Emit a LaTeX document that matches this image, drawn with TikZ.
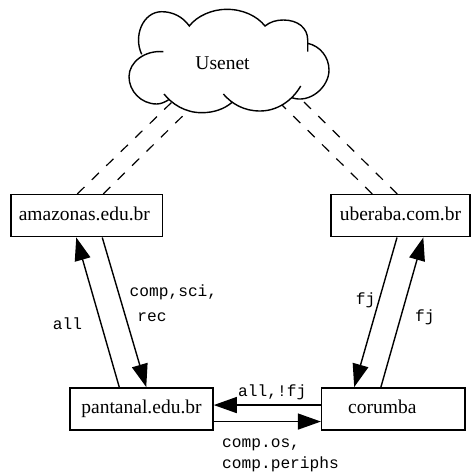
\documentclass[tikz,border=0pt]{standalone}
\usepackage{fontspec}
\setmainfont{Liberation Serif}
\setmonofont{Liberation Mono}
\usetikzlibrary{arrows.meta}
\tikzset{>={Triangle[length=23pt,width=16pt]}}
\tikzset{sitebox/.style={draw,line width=1.5pt,inner sep=0pt,minimum height=42pt,text height=13pt,text depth=3pt,font=\fontsize{19.5}{22}\selectfont}}
\tikzset{feed/.style={->,line width=1.4pt}}
\tikzset{peering/.style={line width=1.2pt,dash pattern=on 10pt off 10.2pt}}
\tikzset{newsgroup/.style={inner sep=0pt,anchor=base,font=\fontsize{16.2}{18}\ttfamily}}

% lobes of the cloud, #1 joins them
\newcommand{\cloudoutline}[1]{
    (141.7,417.7) .. controls (133,436) and (143,460.3) .. (161.7,460.3)
    .. controls (173,460.3) and (183,455) .. (189.3,446)
    .. controls (197,456) and (212,462.7) .. (226.7,462.7)
    .. controls (243,462.7) and (257,456) .. (265,446)
    .. controls (270,450) and (276,452) .. (283.3,452)
    .. controls (298,452) and (307.7,444) .. (307.7,432) -- (307.7,420.3) #1
    (307.7,428.7) .. controls (320,426) and (329,415) .. (329,402)
    .. controls (329,385) and (310,368) .. (291.7,374.3) #1
    (300.7,386) .. controls (292,371) and (277,361) .. (260,361)
    .. controls (244,361) and (232,368) .. (223.3,378) #1
    (231.7,369.3) .. controls (224,363) and (214,359.3) .. (201.7,359.3)
    .. controls (185,359.3) and (172,368) .. (164,378) #1
    (168.3,372) .. controls (165,370) and (161,368) .. (156.7,368)
    .. controls (141,368) and (129,381) .. (129,395.3)
    .. controls (129,410) and (145,422) .. (163.3,420.3)
}

\begin{document}
\begin{tikzpicture}[x=1pt,y=1pt]
    \useasboundingbox (0,0) rectangle (473,472);

    \node[sitebox,minimum width=151.7pt] (amazonas) at (86.85,256.3) {\kern-5pt amazonas.edu.br};
    \node[sitebox,minimum width=139.3pt] (uberaba) at (400.4,256.3) {uberaba.com.br};
    \node[sitebox,minimum width=143pt] (pantanal) at (141.5,63.15) {pantanal.edu.br};
    \node[sitebox,minimum width=143.3pt] (corumba) at (393.3,63.15) {\kern-22pt corumba};

    % ends of the dashed lines, hidden behind the cloud
    \coordinate (cloudA) at (172,370);
    \coordinate (cloudB) at (200,373);
    \coordinate (cloudC) at (281,368);
    \coordinate (cloudD) at (304,370);

    \draw[peering] ([xshift=67pt]amazonas.north west) -- (cloudA);
    \draw[peering] ([xshift=93pt]amazonas.north west) -- (cloudB);
    \draw[peering] ([xshift=42.3pt]uberaba.north west) -- (cloudC);
    \draw[peering] ([xshift=67.3pt]uberaba.north west) -- (cloudD);

    \path[fill=white] \cloudoutline{--} -- cycle;
    \draw[line width=1.4pt] \cloudoutline{};
    \node[inner sep=0pt,anchor=base,font=\fontsize{19.5}{22}\selectfont] (usenet) at (222.5,402) {Usenet};

    \draw[feed] ([xshift=92pt]amazonas.south west) -- ([xshift=77pt]pantanal.north west);
    \draw[feed] ([xshift=50pt]pantanal.north west) -- ([xshift=66pt]amazonas.south west);
    \draw[feed] ([xshift=67pt]uberaba.south west) -- ([xshift=33.3pt]corumba.north west);
    \draw[feed] ([xshift=60pt]corumba.north west) -- ([xshift=93.3pt]uberaba.south west);
    \draw[feed] ([yshift=3.8pt]corumba.west) -- ([yshift=3.8pt]pantanal.east);
    \draw[feed] ([yshift=-12.7pt]pantanal.east) -- ([yshift=-12.7pt]corumba.west);

    \node[newsgroup] (lblall) at (67.5,143) {all};
    \node[newsgroup,anchor=base west] (lblcomp) at (129.5,175.3) {comp,sci,};
    \node[newsgroup] (lblrec) at (152,150.3) {rec};
    \node[newsgroup] (lblfjleft) at (365.7,167.7) {fj};
    \node[newsgroup] (lblfjright) at (424.8,151) {fj};
    \node[newsgroup,anchor=base west] (lblallfj) at (238,75.3) {all,!fj};
    \node[newsgroup,anchor=base west] (lblos) at (222,24.7) {comp.os,};
    \node[newsgroup,anchor=base west] (lblperiphs) at (222,3.7) {comp.periphs};
\end{tikzpicture}
\end{document}
